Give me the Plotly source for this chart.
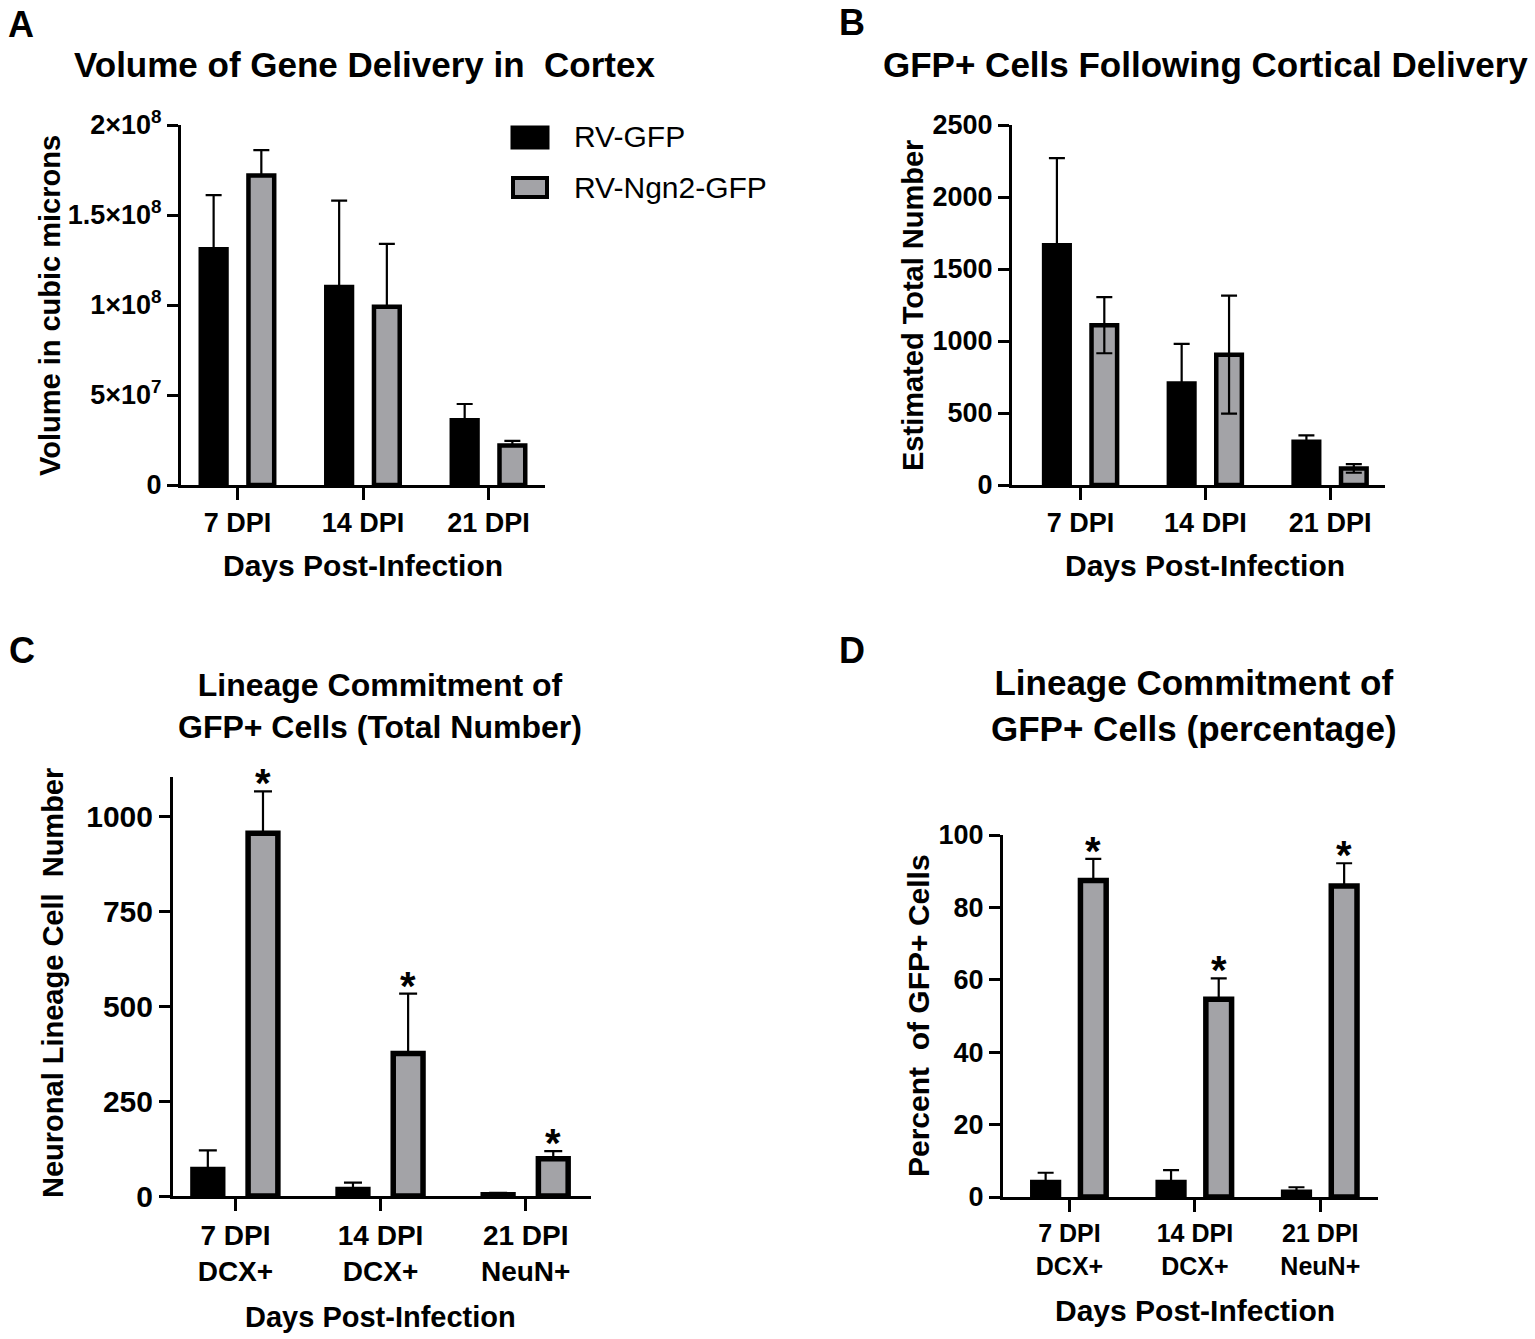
import plotly.graph_objects as go

W, H = 1535, 1339
FONT = "Liberation Sans, Arial, sans-serif"
GRAY = "#a3a3a7"
BARGAP = 0.24
BARGROUPGAP = 0.46
OFFSET = (1 - BARGAP) / 4  # centre of second bar in a group

# panel A - volume of gene delivery
days = ["7 DPI", "14 DPI", "21 DPI"]
a_rv = [1.31e8, 1.10e8, 3.6e7]
a_rv_err = [3.0e7, 4.8e7, 0.9e7]
a_ngn2 = [1.72e8, 0.99e8, 2.2e7]
a_ngn2_err = [1.4e7, 3.5e7, 0.25e7]
a_ticks = [0, 5e7, 1e8, 1.5e8, 2e8]
a_ticktext = ["0", "5×10<sup>7</sup>", "1×10<sup>8</sup>", "1.5×10<sup>8</sup>", "2×10<sup>8</sup>"]

# panel B - GFP+ cells
b_rv = [1665, 705, 300]
b_rv_err = [605, 275, 45]
b_ngn2 = [1110, 905, 115]
b_ngn2_err = [195, 410, 30]

# panel C - lineage commitment, total number
lineage = ["7 DPI<br>DCX+", "14 DPI<br>DCX+", "21 DPI<br>NeuN+"]
c_rv = [70, 17, 3]
c_rv_err = [50, 18, 5]
c_ngn2 = [955, 375, 98]
c_ngn2_err = [110, 158, 20]

# panel D - lineage commitment, percentage
d_rv = [4.0, 4.0, 1.3]
d_rv_err = [2.7, 3.4, 1.4]
d_ngn2 = [87.4, 54.6, 85.9]
d_ngn2_err = [6.0, 5.8, 6.3]


def px(x):
    return x / W


def py(y):
    return 1 - y / H


def err(vals, symmetric, thick, cap):
    d = dict(type="data", array=vals, color="black", thickness=thick, width=cap, visible=True)
    if not symmetric:
        d["symmetric"] = False
        d["arrayminus"] = [0] * len(vals)
    return d


def add_pair(fig, n, rv, rv_err, ngn, ngn_err, outline, symmetric=False, thick=2.2, cap=8):
    xa = "x" if n == 1 else f"x{n}"
    ya = "y" if n == 1 else f"y{n}"
    pos = list(range(len(rv)))
    fig.add_trace(go.Bar(x=pos, y=rv, name="RV-GFP", xaxis=xa, yaxis=ya, showlegend=False,
                         marker=dict(color="black", line=dict(color="black", width=outline)),
                         error_y=err(rv_err, symmetric, thick, cap)))
    fig.add_trace(go.Bar(x=pos, y=ngn, name="RV-Ngn2-GFP", xaxis=xa, yaxis=ya, showlegend=False,
                         marker=dict(color=GRAY, line=dict(color="black", width=outline)),
                         error_y=err(ngn_err, symmetric, thick, cap)))


fig = go.Figure()
add_pair(fig, 1, a_rv, a_rv_err, a_ngn2, a_ngn2_err, 4.5)
add_pair(fig, 2, b_rv, b_rv_err, b_ngn2, b_ngn2_err, 4.5, symmetric=True)
add_pair(fig, 3, c_rv, c_rv_err, c_ngn2, c_ngn2_err, 5.5, cap=9)
add_pair(fig, 4, d_rv, d_rv_err, d_ngn2, d_ngn2_err, 5.5)

tickfont = dict(family=FONT, size=27, color="black", weight="bold")
axis_common = dict(showline=True, linecolor="black", linewidth=3, ticks="outside", ticklen=12,
                   tickwidth=3, tickcolor="black", showgrid=False, zeroline=False,
                   tickfont=tickfont, automargin=False, fixedrange=True)

# pixel extents of each plot area, plus ranges, ticks and tick font sizes
panels = {
    1: dict(xd=(181, 545), yd=(485, 125), xr=[-0.45, 2.45], yr=[0, 2e8], xt=days, xs=27, ys=27,
            yt=dict(tickvals=a_ticks, ticktext=a_ticktext)),
    2: dict(xd=(1012, 1385), yd=(485, 125), xr=[-0.55, 2.44], yr=[0, 2500], xt=days, xs=27, ys=27,
            yt=dict(tickvals=[0, 500, 1000, 1500, 2000, 2500])),
    3: dict(xd=(173, 591), yd=(1196, 777), xr=[-0.43, 2.45], yr=[0, 1103], xt=lineage, xs=28, ys=30,
            yt=dict(tickvals=[0, 250, 500, 750, 1000])),
    4: dict(xd=(1003, 1378), yd=(1197, 835), xr=[-0.53, 2.46], yr=[0, 100], xt=lineage, xs=25, ys=27,
            yt=dict(tickvals=[0, 20, 40, 60, 80, 100])),
}

layout = dict(width=W, height=H, margin=dict(l=0, r=0, t=0, b=0, pad=0, autoexpand=False),
              paper_bgcolor="white", plot_bgcolor="white", barmode="group", bargap=BARGAP,
              bargroupgap=BARGROUPGAP, showlegend=False, font=dict(family=FONT, color="black"))
for n, p in panels.items():
    xk = "xaxis" if n == 1 else f"xaxis{n}"
    yk = "yaxis" if n == 1 else f"yaxis{n}"
    layout[xk] = dict(axis_common, domain=[px(p["xd"][0]), px(p["xd"][1])], range=p["xr"],
                      tickvals=[0, 1, 2], ticktext=p["xt"], anchor="y" if n == 1 else f"y{n}",
                      tickfont=dict(tickfont, size=p["xs"]))
    layout[yk] = dict(axis_common, domain=[py(p["yd"][0]), py(p["yd"][1])], range=p["yr"],
                      anchor="x" if n == 1 else f"x{n}", ticklen=11,
                      tickfont=dict(tickfont, size=p["ys"]), **p["yt"])
fig.update_layout(**layout)

ann = []
def text(x, y, s, size, bold=True, angle=0, xanchor="center"):
    ann.append(dict(x=px(x), y=py(y), xref="paper", yref="paper", text=s, showarrow=False,
                    textangle=angle, xanchor=xanchor, yanchor="middle",
                    font=dict(family=FONT, size=size, color="black", weight="bold" if bold else "normal")))

# panel letters
text(21, 25, "A", 36)
text(852, 22, "B", 36)
text(22, 650, "C", 36)
text(852, 650, "D", 36)
# titles
text(364, 65, "Volume of Gene Delivery in  Cortex", 35)
text(1205, 65, "GFP+ Cells Following Cortical Delivery", 35)
text(380, 706, "Lineage Commitment of<br>GFP+ Cells (Total Number)", 32)
text(1194, 705, "Lineage Commitment of<br>GFP+ Cells (percentage)", 35)
# axis titles
text(363, 565, "Days Post-Infection", 30)
text(1205, 565, "Days Post-Infection", 30)
text(380, 1317, "Days Post-Infection", 29)
text(1195, 1310, "Days Post-Infection", 30)
text(50, 306, "Volume in cubic microns", 29, angle=-90)
text(913, 305, "Estimated Total Number", 29, angle=-90)
text(53, 983, "Neuronal Lineage Cell  Number", 29, angle=-90)
text(918, 1015, "Percent  of GFP+ Cells", 30, angle=-90)
# legend (drawn by hand to match box size)
text(572, 137, "RV-GFP", 30, bold=False, xanchor="left")
text(572, 187, "RV-Ngn2-GFP", 30, bold=False, xanchor="left")

# significance stars above the Ngn2 bars
for n, vals, errs in [(3, c_ngn2, c_ngn2_err), (4, d_ngn2, d_ngn2_err)]:
    for i, (v, e) in enumerate(zip(vals, errs)):
        ann.append(dict(x=i + OFFSET, y=v + e, xref=f"x{n}", yref=f"y{n}", text="*",
                        showarrow=False, yanchor="bottom", yshift=-16,
                        font=dict(family=FONT, size=40, color="black", weight="bold")))

fig.update_layout(annotations=ann, shapes=[
    dict(type="rect", xref="paper", yref="paper", x0=px(512), x1=px(548), y0=py(148), y1=py(127),
         fillcolor="black", line=dict(color="black", width=3)),
    dict(type="rect", xref="paper", yref="paper", x0=px(513), x1=px(547), y0=py(197), y1=py(178),
         fillcolor=GRAY, line=dict(color="black", width=4)),
])

# the page's default body margin would push the figure 8px off; drop it
fig.write_html("out.html", config={"displayModeBar": False},
               post_script="document.body.style.margin='0px';")
